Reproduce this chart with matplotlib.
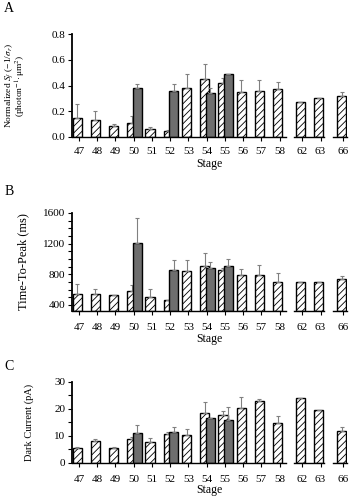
import numpy as np
import matplotlib
matplotlib.use("Agg")
import matplotlib.pyplot as plt

plt.rcParams['font.family'] = ['Liberation Serif', 'DejaVu Serif']
plt.rcParams['mathtext.fontset'] = 'stix'
plt.rcParams['hatch.linewidth'] = 0.6

# Estágios (eixo x) — mesmos nos três painéis
stages = ['47', '48', '49', '50', '51', '52', '53', '54', '55', '56', '57', '58', '62', '63', '66']
# estágios que têm a barra cinza ao lado
grey_stages = ['50', '52', '54', '55']

# Painel A: sensibilidade normalizada
sf_hatch = [0.145, 0.132, 0.085, 0.109, 0.065, 0.047, 0.378, 0.448, 0.42, 0.35, 0.355, 0.37, 0.272, 0.303, 0.316]
sf_hatch_err = [0.11, 0.072, 0.018, 0.054, 0.01, 0.008, 0.112, 0.119, 0.04, 0.09, 0.085, 0.055, 0, 0, 0.034]
sf_grey = [0.38, 0.357, 0.34, 0.487]
sf_grey_err = [0.03, 0.053, 0.038, 0]

# Painel B: tempo até o pico (ms)
ttp_hatch = [536, 536, 523, 585, 505, 466, 839, 914, 862, 796, 786, 698, 698, 698, 743]
ttp_hatch_err = [141, 75, 7, 70, 97, 0, 141, 166, 15, 70, 132, 124, 0, 0, 34]
ttp_grey = [1205, 862, 883, 914]
ttp_grey_err = [329, 122, 71, 83]

# Painel C: corrente de escuro (pA)
dc_hatch = [5.6, 8.1, 5.6, 8.9, 7.7, 10.5, 10.4, 18.4, 17.5, 20.1, 22.8, 14.8, 23.8, 19.6, 11.6]
dc_hatch_err = [0.4, 0.7, 0.3, 0.5, 1.4, 1.0, 1.9, 3.9, 1.5, 4.2, 0.7, 2.4, 0, 0, 1.5]
dc_grey = [11.0, 11.2, 16.4, 16.0]
dc_grey_err = [3.0, 1.9, 0, 4.5]

# posições no eixo x: espaço extra antes de 62 e de 66 (eixo quebrado)
x_pos = np.arange(len(stages), dtype=float)
x_pos[12:] += 0.25
x_pos[14:] += 0.25
grey_pos = [x_pos[stages.index(s)] for s in grey_stages]

# trechos da linha do eixo x (quebrada)
axis_segments = [(-0.38, 11.35), (11.8, 13.42), (13.95, 14.7)]

fig = plt.figure(figsize=(3.53, 5.0), dpi=100)


def painel(rect, hatch_vals, hatch_err, grey_vals, grey_err, ylim, yticks, minor,
           ylabel, ylabel_size, label_x, letra, letra_y, xpad, stage_pad):
    ax = fig.add_axes(rect)
    err_kw = dict(ecolor='#808080', elinewidth=0.8, capsize=1.5, capthick=0.8)
    bottom = ylim[0]
    hv = np.array(hatch_vals) - bottom
    gv = np.array(grey_vals) - bottom
    ax.bar(x_pos - 0.35, hv, width=0.5, bottom=bottom, align='edge', color='white',
           edgecolor='black', linewidth=1.0, hatch='/////',
           yerr=[np.zeros(len(hv)), hatch_err], error_kw=err_kw, zorder=2)
    ax.bar(np.array(grey_pos) - 0.05, gv, width=0.5, bottom=bottom, align='edge', color='#6e6e6e',
           edgecolor='black', linewidth=1.0,
           yerr=[np.zeros(len(gv)), grey_err], error_kw=err_kw, zorder=3)

    ax.set_xlim(-0.38, 14.7)
    ax.set_ylim(*ylim)
    ax.set_yticks(yticks)
    if minor is not None:
        ax.set_yticks(minor, minor=True)
    ax.set_xticks(x_pos)
    ax.set_xticklabels(stages)
    ax.tick_params(axis='both', labelsize=8, length=3, width=0.8, direction='out', pad=2)
    ax.tick_params(axis='x', pad=xpad)
    ax.tick_params(axis='y', which='minor', length=3, width=0.8)
    ax.set_xlabel('Stage', fontsize=8.5, labelpad=stage_pad)
    ax.set_ylabel(ylabel, fontsize=ylabel_size, linespacing=0.9)
    ax.yaxis.set_label_coords(label_x, 0.5)

    for lado in ['top', 'right', 'bottom']:
        ax.spines[lado].set_visible(False)
    ax.spines['left'].set_linewidth(1.3)
    for a, b in axis_segments:
        ax.plot([a, b], [ylim[0], ylim[0]], color='black', lw=1.0, clip_on=False, zorder=4)

    fig.text(0.012, letra_y, letra, fontsize=10, va='top', ha='left')
    return ax


painel([0.204, 0.726, 0.779, 0.206], sf_hatch, sf_hatch_err, sf_grey, sf_grey_err,
       (0, 0.8), [0, 0.2, 0.4, 0.6, 0.8], None,
       'Normalized $S_f$ (\u22121/$\\sigma_r$)\n(photon$^{-1}$\u00b7\u03bcm$^2$)', 6.8, -0.16, 'A', 0.996,
       4, 1.5)
ax_b = painel([0.204, 0.378, 0.779, 0.196], ttp_hatch, ttp_hatch_err, ttp_grey, ttp_grey_err,
              (320, 1600), [400, 800, 1200, 1600], np.arange(400, 1601, 100),
              'Time-To-Peak (ms)', 9, -0.155, 'B', 0.63, 6, 0.5)
ax_b.set_yticklabels(['400', '800', '1200', '1600'])
painel([0.204, 0.0746, 0.779, 0.162], dc_hatch, dc_hatch_err, dc_grey, dc_grey_err,
       (0, 30), [0, 10, 20, 30], [5, 15, 25],
       'Dark Current (pA)', 7.5, -0.14, 'C', 0.28, 6, 0)

fig.savefig('out.png', dpi=100)
